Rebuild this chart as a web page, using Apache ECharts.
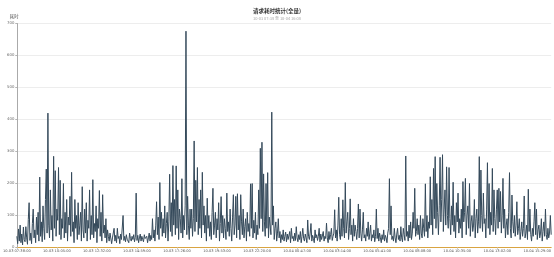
<!DOCTYPE html>
<html><head><meta charset="utf-8">
<script src="https://cdn.jsdelivr.net/npm/echarts@6/dist/echarts.min.js"></script>
<style>html,body{margin:0;padding:0;background:#fff}#c{width:554px;height:257px}</style>
</head><body><div id="c"></div>
<script>
var titleText = '请求耗时统计(全量)';
var subText = '10-03 07:38 至 10-04 16:08';
var yName = '耗时';
var startTime = '2024-10-03T07:38:00';
var stepMinutes = 3;
var labelEvery = 49;
var yMax = 700, yInterval = 100;
var costValues = [
35,12,58,20,70,15,42,8,64,25,
18,65,30,10,88,140,22,45,12,75,
120,30,55,15,95,40,110,20,220,35,
80,18,130,60,25,150,245,45,420,70,
30,180,55,100,20,285,60,240,35,120,
85,250,40,210,25,90,60,200,30,110,
45,150,20,95,70,160,35,235,50,80,
15,150,60,100,25,140,40,70,110,20,
190,55,30,120,45,140,20,85,60,180,
25,100,40,212,30,75,50,130,15,90,
60,178,35,110,20,165,45,70,30,90,
15,55,35,20,45,40,12,30,25,60,
20,38,15,60,28,35,12,42,25,30,
100,22,35,18,40,26,30,15,45,28,
20,35,25,40,18,32,170,22,38,15,
30,42,20,35,25,18,40,28,22,35,
15,30,45,20,38,25,90,30,55,20,
70,143,40,95,25,203,60,110,35,90,
45,130,30,75,110,20,80,229,50,140,
35,256,70,150,40,255,60,180,25,120,
90,45,215,30,100,55,130,676,40,160,
70,25,120,60,120,35,90,333,50,210,
80,250,40,150,60,180,30,235,70,130,
45,100,20,154,60,100,35,80,25,110,
185,40,70,110,30,90,55,140,20,75,
159,45,100,30,90,60,25,170,50,80,
35,120,60,20,95,165,40,70,160,30,
168,55,100,25,165,80,40,120,30,65,
90,20,110,50,75,35,199,60,200,30,
85,45,110,25,70,40,180,60,310,90,
329,50,230,80,35,200,60,234,30,95,
100,40,423,70,130,25,60,80,20,45,
90,30,50,15,40,25,55,20,35,48,
18,42,25,30,50,15,60,28,35,20,
45,22,65,30,18,40,25,50,15,35,
60,28,20,42,30,15,86,35,25,45,
75,20,38,28,15,55,30,40,22,35,
60,18,42,25,30,50,20,35,28,76,
30,15,50,25,40,60,22,35,45,118,
30,55,20,70,157,40,25,90,35,149,
60,30,203,45,80,110,25,60,152,40,
70,20,90,35,70,50,25,60,136,30,
120,45,20,55,110,30,40,20,60,35,
80,25,45,70,20,40,30,55,18,35,
120,28,60,20,45,30,15,40,25,55,
20,38,30,15,45,60,215,40,130,25,
35,20,60,30,15,42,60,25,38,20,
65,30,18,60,40,22,286,35,50,20,
70,30,80,25,45,110,60,185,35,50,
90,40,70,25,100,45,30,90,60,35,
199,50,100,30,80,60,221,70,150,40,
247,90,284,60,200,110,40,130,282,80,
150,290,50,120,180,70,252,100,60,250,
90,40,130,70,204,50,100,30,140,80,
170,45,90,60,120,30,206,80,110,216,
40,100,130,60,200,35,80,100,50,70,
150,30,90,120,45,80,284,60,242,100,
50,170,75,90,30,120,265,60,200,40,
110,70,247,50,180,90,40,120,180,60,
185,80,175,45,100,216,60,120,30,70,
90,40,110,234,60,30,164,80,45,100,
35,70,143,40,60,90,25,50,80,35,
60,161,30,45,70,25,182,50,120,40,
20,60,35,80,140,40,120,25,55,70,
30,45,90,20,50,80,35,120,40,25,
60,30,45,100,40
];
function pad(n){return (n<10?'0':'')+n;}
var categories = [];
var t0 = new Date(startTime).getTime();
for (var i = 0; i < costValues.length; i++) {
  var d = new Date(t0 + i*stepMinutes*60000);
  categories.push(pad(d.getMonth()+1)+'-'+pad(d.getDate())+' '+pad(d.getHours())+':'+pad(d.getMinutes())+':00');
}
var chart = echarts.init(document.getElementById('c'), null, {renderer:'canvas'});
chart.setOption({
  animation:false,
  title:{text:titleText, subtext:subText, left:'center', top:3, itemGap:3,
    textStyle:{fontSize:5.5, fontWeight:'bold', color:'#333', fontFamily:'Noto Sans CJK SC'},
    subtextStyle:{fontSize:4, color:'#aaa', fontFamily:'Noto Sans CJK SC'}},
  grid:{left:11, right:1, top:23.5, bottom:9.5, containLabel:false},
  xAxis:{type:'category', data:categories, boundaryGap:false,
    axisLine:{lineStyle:{color:'#d9a441', width:1}},
    axisTick:{show:true, interval:labelEvery-1, length:2, lineStyle:{color:'#ccc'}},
    axisLabel:{interval:labelEvery-1, fontSize:3.6, color:'#555', margin:1.5, fontFamily:'DejaVu Sans'},
    splitLine:{show:false}},
  yAxis:{type:'value', min:0, max:yMax, interval:yInterval, name:yName,
    nameGap:5, nameTextStyle:{fontSize:4.5, color:'#555', fontFamily:'Noto Sans CJK SC', align:'right', padding:[0,-2,0,0]},
    axisLine:{show:true, lineStyle:{color:'#aaa'}},
    axisTick:{show:true, length:1.5, lineStyle:{color:'#aaa'}},
    axisLabel:{fontSize:3.8, color:'#666', margin:2.5, fontFamily:'DejaVu Sans'},
    splitLine:{lineStyle:{color:'#e8e8e8', width:0.8}}},
  series:[{type:'line', data:costValues, showSymbol:false, symbol:'none',
    lineStyle:{color:'#34495a', width:1}, itemStyle:{color:'#34495a'}}]
});
</script></body></html>
